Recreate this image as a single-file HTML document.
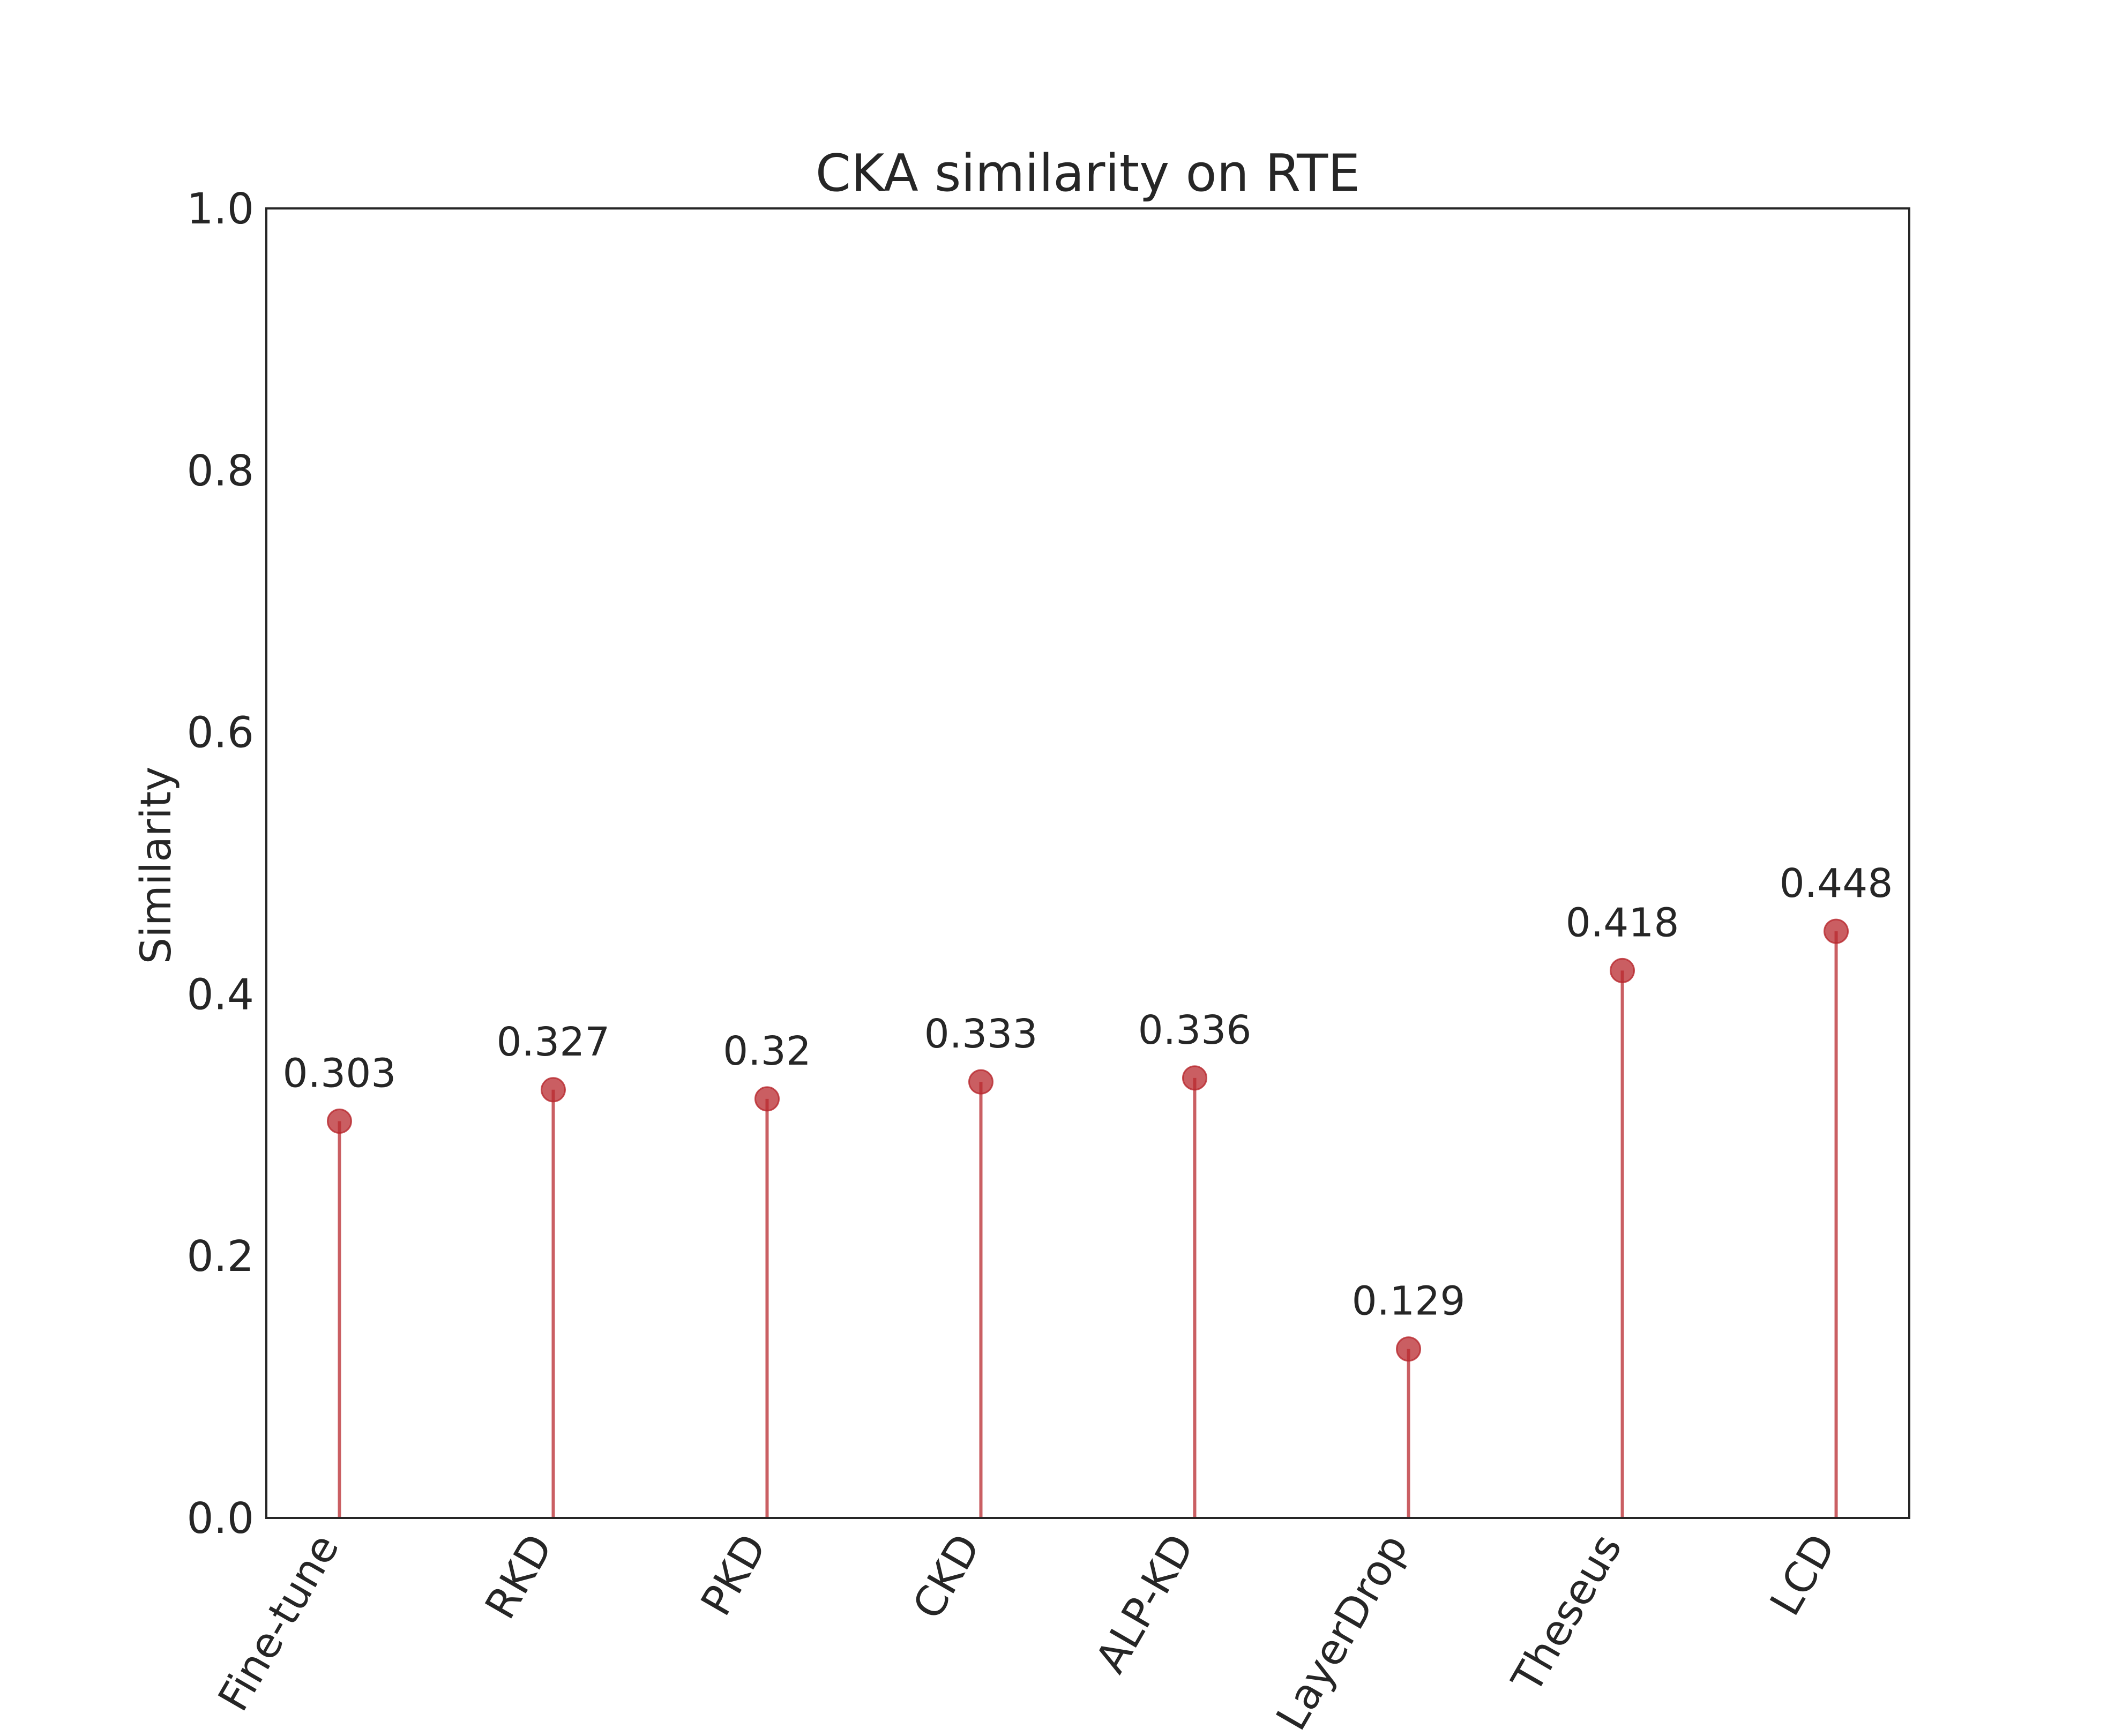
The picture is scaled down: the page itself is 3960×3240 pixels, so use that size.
<!DOCTYPE html>
<html><head><meta charset="utf-8"><style>
html,body{margin:0;padding:0;background:#fff}
svg{display:block;font-family:"DejaVu Sans","Liberation Sans",sans-serif}
</style></head><body>
<svg id="chart" width="3960" height="3240" viewBox="0 0 3960 3240" xmlns="http://www.w3.org/2000/svg">
<rect width="3960" height="3240" fill="#fff"/>
<text x="2030" y="356" font-size="95" text-anchor="middle" fill="#262626">CKA similarity on RTE</text>
<text transform="translate(318,1615) rotate(-90)" font-size="78" text-anchor="middle" fill="#262626">Similarity</text>
<g id="marks"></g>
<rect x="497" y="389" width="3066" height="2444" fill="none" stroke="#262626" stroke-width="4"/>
</svg>
<script>
const categories = ["Fine-tune","RKD","PKD","CKD","ALP-KD","LayerDrop","Theseus","LCD"];
const values = [0.303,0.327,0.32,0.333,0.336,0.129,0.418,0.448];
const valueLabels = ["0.303","0.327","0.32","0.333","0.336","0.129","0.418","0.448"];
const yTicks = [0.0,0.2,0.4,0.6,0.8,1.0];
const yTickLabels = ["0.0","0.2","0.4","0.6","0.8","1.0"];

const L=497,R=3563,T=389,B=2833;
const xMin=-0.342,xMax=7.342;
const xs=i=>L+(i-xMin)/(xMax-xMin)*(R-L);
const ys=v=>B-v*(B-T);
const NS="http://www.w3.org/2000/svg";
const g=document.getElementById('marks');
function mk(tag,attrs,parent){const e=document.createElementNS(NS,tag);for(const k in attrs)e.setAttribute(k,attrs[k]);(parent||g).appendChild(e);return e;}

yTicks.forEach((t,i)=>{
  const e=mk('text',{x:474,y:ys(t)+28,'font-size':79,'text-anchor':'end',fill:'#262626'});
  e.textContent=yTickLabels[i];
  
  
});

categories.forEach((c,i)=>{
  const x=xs(i),y=ys(values[i]);
  const s=mk('line',{x1:x,y1:B,x2:x,y2:y,stroke:'#c44e52','stroke-opacity':0.9,'stroke-width':6});
  
  
  const m=mk('circle',{cx:x,cy:y,r:22,fill:'#b8282e','fill-opacity':0.75,stroke:'#b8282e','stroke-opacity':0.8,'stroke-width':3});
  
  
  const a=mk('text',{x:x,y:y-64,'font-size':74,'text-anchor':'middle',fill:'#262626'});
  a.textContent=valueLabels[i];
  
  
  const xl=mk('text',{transform:`translate(${x-22},${B+38}) rotate(-60)`,'font-size':78,'text-anchor':'end','dominant-baseline':'central',fill:'#262626'});
  xl.textContent=c;
  
  
});
</script>
</body></html>
